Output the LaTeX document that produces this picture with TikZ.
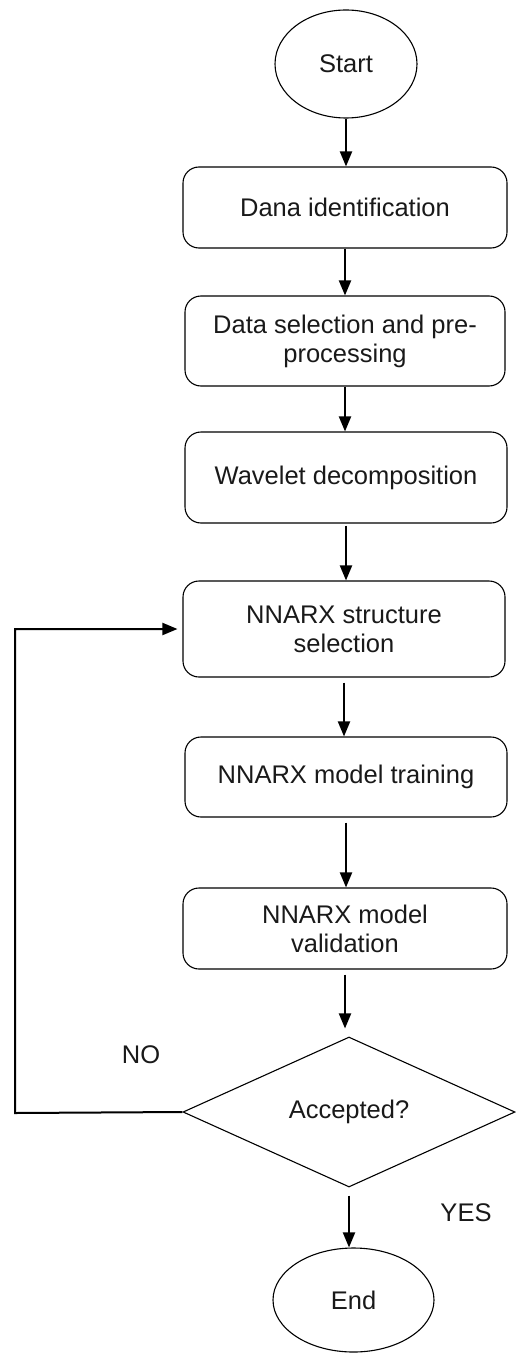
\documentclass[tikz,border=0pt]{standalone}
\usepackage{fontspec}
\setmainfont{Liberation Sans}
\usetikzlibrary{shapes.geometric,arrows.meta}
\begin{document}
\begin{tikzpicture}[x=1pt,y=-1pt,
  txt/.style={font=\fontsize{25.5}{29}\selectfont, text=black!90},
  procbox/.style={txt, draw, line width=1.1pt, rounded corners=16pt, align=center, inner sep=0pt},
  term/.style={txt, draw, ellipse, line width=1.1pt, inner sep=0pt},
  decis/.style={txt, draw, diamond, line width=1.1pt, inner sep=0pt, minimum width=332pt, minimum height=150pt},
  flow/.style={line width=2pt, -{Triangle[length=15pt,width=12pt]}}]
\useasboundingbox (0,0) rectangle (515,1356);
\node[term, minimum width=142pt, minimum height=108pt] (start) at (346,64) {Start};
\node[procbox, minimum width=324pt, minimum height=81pt] (b1) at (345,207.5) {Dana identification};
\node[procbox, minimum width=320pt, minimum height=90pt] (b2) at (345,341) {Data selection and pre-\\processing};
\node[procbox, minimum width=322pt, minimum height=91pt] (b3) at (346,477.5) {Wavelet decomposition};
\node[procbox, minimum width=322pt, minimum height=96pt] (b4) at (344,629) {NNARX structure\\selection};
\node[procbox, minimum width=322pt, minimum height=80pt] (b5) at (346,777) {NNARX model training};
\node[procbox, minimum width=324pt, minimum height=81pt] (b6) at (345,928.5) {NNARX model\\validation};
\node[decis] (dec) at (349,1112) {Accepted?};
\node[term, minimum width=161pt, minimum height=104pt] (stop) at (353.5,1300) {End};
\node[txt] (no) at (141,1055) {NO};
\node[txt] (yes) at (466,1213) {YES};
\coordinate (corner) at (15,1113);
\draw[flow] (start.south) -- (start.south |- b1.north);
\draw[flow] (b1.south) -- (b1.south |- b2.north);
\draw[flow] (b2.south) -- (b2.south |- b3.north);
\draw[flow, shorten <=2pt] (b3.south) -- (b3.south |- b4.north);
\draw[flow, shorten <=5pt] (b4.south) -- (b4.south |- b5.north);
\draw[flow, shorten <=5pt] (b5.south) -- (b5.south |- b6.north);
\draw[flow, shorten <=5pt, shorten >=8pt] (b6.south) -- (b6.south |- dec.north);
\draw[flow, shorten <=8pt] (dec.south) -- (dec.south |- stop.north);
\draw[flow, shorten >=5pt] (dec.west) -- (corner) |- (b4.west);
\end{tikzpicture}
\end{document}
